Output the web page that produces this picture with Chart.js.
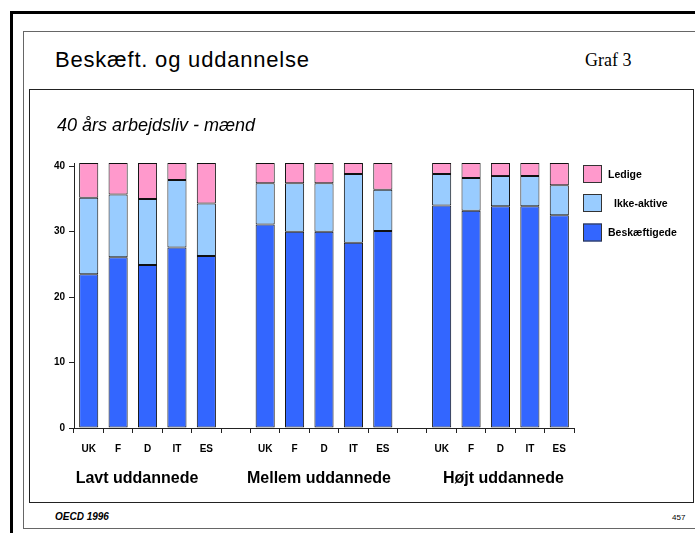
<!DOCTYPE html>
<html>
<head>
<meta charset="utf-8">
<script src="https://cdn.jsdelivr.net/npm/chart.js@4.4.0/dist/chart.umd.min.js"></script>
<style>
  body { margin: 0; background: #fff; font-family: "Liberation Sans", Arial, sans-serif; }
  #page { position: relative; width: 695px; height: 533px; overflow: hidden; }
  .abs { position: absolute; }
  #outer { left: 10px; top: 11px; width: 700px; height: 540px; border-left: 3px solid #000; border-top: 3px solid #000; }
  #inner { left: 23px; top: 31px; width: 700px; height: 496px; border: 1px solid #666; }
  #box { left: 29px; top: 89px; width: 665px; height: 414px; box-sizing: border-box; border: 1px solid #222; }
  #title { left: 55px; top: 47px; font-size: 22px; letter-spacing: 0.8px; color: #000; }
  #graf { left: 585px; top: 50px; font-family: "Liberation Serif", "Times New Roman", serif; font-size: 18px; }
  #footer { left: 55px; top: 511px; font-size: 10px; font-weight: bold; font-style: italic; }
  #pageNo { left: 672px; top: 513px; font-size: 8px; }
  #chart { left: 29px; top: 89px; }
</style>
</head>
<body>
<div id="page">
  <div class="abs" id="outer"></div>
  <div class="abs" id="inner"></div>
  <div class="abs" id="box"></div>
  <div class="abs" id="title">Beskæft. og uddannelse</div>
  <div class="abs" id="graf">Graf 3</div>
  <div class="abs" id="footer">OECD 1996</div>
  <div class="abs" id="pageNo">457</div>
  <canvas class="abs" id="chart" width="665" height="414"></canvas>
</div>
<script>
// categories: three education groups of five countries, empty slot between groups
const countries = ["UK", "F", "D", "IT", "ES", "", "UK", "F", "D", "IT", "ES", "", "UK", "F", "D", "IT", "ES"];
const groupNames = ["Lavt uddannede", "Mellem uddannede", "Højt uddannede"];
const subtitle = "40 års arbejdsliv - mænd";

// years out of a 40-year working life
const beskaeftigede = [23.5, 26.1, 24.9, 27.6, 26.3, null, 31.1, 30.0, 30.0, 28.3, 30.1, null, 34.0, 33.2, 33.9, 33.9, 32.5];
const ikkeAktive = [11.7, 9.6, 10.1, 10.3, 8.0, null, 6.3, 7.4, 7.4, 10.5, 6.3, null, 4.8, 5.0, 4.6, 4.6, 4.6];
const ledige = [5.3, 4.8, 5.5, 2.6, 6.2, null, 3.1, 3.1, 3.1, 1.7, 4.1, null, 1.7, 2.3, 2.0, 2.0, 3.4];
const yTicks = [0, 10, 20, 30, 40];

const FONT = "'Liberation Sans', Arial, sans-serif";

// subtitle, group labels and the legend drawn on the canvas
const extras = {
  id: "extras",
  afterDraw(chart) {
    const ctx = chart.ctx;
    const x = chart.scales.x;
    ctx.save();
    ctx.fillStyle = "#000";

    ctx.font = "italic 18px " + FONT;
    ctx.textAlign = "left";
    ctx.textBaseline = "middle";
    ctx.fillText(subtitle, 28, 37);

    ctx.font = "bold 16px " + FONT;
    ctx.textAlign = "center";
    const shift = [-10.5, -5, 3];
    groupNames.forEach((name, i) => {
      const cx = x.getPixelForValue(i * 6 + 2) + shift[i];
      ctx.fillText(name, cx, 390);
    });

    // legend, top series first
    const ds = chart.data.datasets.slice().reverse();
    const rows = [85, 114, 143.5];
    ctx.font = "bold 10.5px " + FONT;
    ctx.textAlign = "left";
    ds.forEach((d, i) => {
      const y = rows[i];
      ctx.fillStyle = d.backgroundColor;
      ctx.fillRect(554, y - 9, 19, 18);
      ctx.strokeStyle = "#333";
      ctx.lineWidth = 1;
      ctx.strokeRect(554.5, y - 8.5, 18, 17);
      ctx.fillStyle = "#000";
      ctx.fillText(d.label, d.label === "Ikke-aktive" ? 585 : 579, y + 1);
    });
    ctx.restore();
  }
};

new Chart(document.getElementById("chart"), {
  type: "bar",
  data: {
    labels: countries,
    datasets: [
      { label: "Beskæftigede", data: beskaeftigede, backgroundColor: "#3366FF" },
      { label: "Ikke-aktive", data: ikkeAktive, backgroundColor: "#99CCFF" },
      { label: "Ledige", data: ledige, backgroundColor: "#FF99CC" },
    ].map((d) => Object.assign(d, {
      borderColor: "#111",
      borderWidth: 1,
      borderSkipped: false,
      barPercentage: 0.65,
      categoryPercentage: 1,
    })),
  },
  options: {
    responsive: false,
    animation: false,
    layout: { padding: { left: 10, top: 74, right: 120, bottom: 0 } },
    plugins: { legend: { display: false }, tooltip: { enabled: false } },
    scales: {
      x: {
        stacked: true,
        afterFit: (s) => { s.height = 75; },
        grid: { offset: true, drawOnChartArea: false, drawTicks: true, tickLength: 5, color: "#222" },
        border: { display: true, color: "#222", width: 1 },
        ticks: { autoSkip: false, maxRotation: 0, padding: 10, color: "#000", font: { family: FONT, size: 10, weight: "bold" } },
      },
      y: {
        stacked: true,
        min: 0,
        max: 40.5,
        afterFit: (s) => { s.width = 35; },
        afterBuildTicks: (s) => { s.ticks = yTicks.map((v) => ({ value: v })); },
        grid: { drawOnChartArea: false, drawTicks: true, tickLength: 5, color: "#222" },
        border: { display: true, color: "#222", width: 1 },
        ticks: { padding: 4, color: "#000", font: { family: FONT, size: 10, weight: "bold" } },
      },
    },
  },
  plugins: [extras],
});
</script>
</body>
</html>
